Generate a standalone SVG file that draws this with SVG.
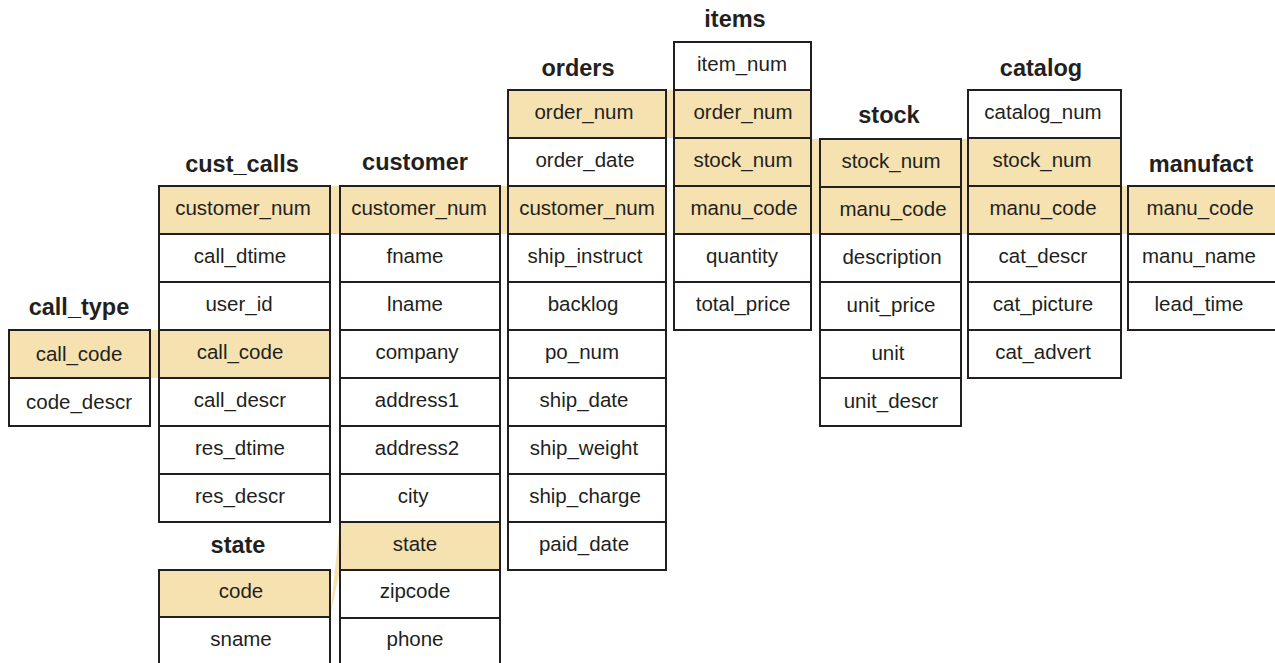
<svg xmlns="http://www.w3.org/2000/svg" width="1275" height="663" viewBox="0 0 1275 663">
<style>
.k{fill:#f6e2b0;stroke:#231f20;stroke-width:2}
.n{fill:#ffffff;stroke:#231f20;stroke-width:2}
.band{fill:#f6e2b0;stroke:none}
.t{font-family:"Liberation Sans",Arial,sans-serif;font-size:20.5px;fill:#231f20;text-anchor:middle}
.h{font-family:"Liberation Sans",Arial,sans-serif;font-size:23.5px;font-weight:bold;fill:#231f20;text-anchor:middle}
</style>
<rect width="1275" height="663" fill="#ffffff"/>
<g id="connectors">
<rect class="band" x="150" y="330" width="9" height="48"/>
<rect class="band" x="330" y="186" width="10" height="48"/>
<polygon class="band" points="330,617 340,522 340,570"/>
<rect class="band" x="500" y="186" width="8" height="48"/>
<rect class="band" x="666" y="90" width="8" height="48"/>
<rect class="band" x="811" y="139" width="9" height="95"/>
<rect class="band" x="961" y="139" width="7" height="95"/>
<rect class="band" x="1121" y="186" width="7" height="48"/>
</g>
<g id="call_type">
<text class="h" x="79" y="315">call_type</text>
<rect class="k" x="9" y="330" width="141" height="48"/><text class="t" x="79" y="361">call_code</text>
<rect class="n" x="9" y="378" width="141" height="48"/><text class="t" x="79" y="409">code_descr</text>
</g>
<g id="cust_calls">
<text class="h" x="242" y="172">cust_calls</text>
<rect class="k" x="159" y="186" width="171" height="48"/><text class="t" x="243" y="215">customer_num</text>
<rect class="n" x="159" y="234" width="171" height="48"/><text class="t" x="240" y="263">call_dtime</text>
<rect class="n" x="159" y="282" width="171" height="48"/><text class="t" x="239" y="311">user_id</text>
<rect class="k" x="159" y="330" width="171" height="48"/><text class="t" x="240" y="359">call_code</text>
<rect class="n" x="159" y="378" width="171" height="48"/><text class="t" x="240" y="407">call_descr</text>
<rect class="n" x="159" y="426" width="171" height="48"/><text class="t" x="240" y="455">res_dtime</text>
<rect class="n" x="159" y="474" width="171" height="48"/><text class="t" x="240" y="503">res_descr</text>
</g>
<g id="state">
<text class="h" x="238" y="553">state</text>
<rect class="k" x="159" y="570" width="171" height="47"/><text class="t" x="241" y="598">code</text>
<rect class="n" x="159" y="617" width="171" height="48"/><text class="t" x="241" y="646">sname</text>
</g>
<g id="customer">
<text class="h" x="415" y="170">customer</text>
<rect class="k" x="340" y="186" width="160" height="48"/><text class="t" x="419" y="215">customer_num</text>
<rect class="n" x="340" y="234" width="160" height="48"/><text class="t" x="415" y="263">fname</text>
<rect class="n" x="340" y="282" width="160" height="48"/><text class="t" x="415" y="311">lname</text>
<rect class="n" x="340" y="330" width="160" height="48"/><text class="t" x="417" y="359">company</text>
<rect class="n" x="340" y="378" width="160" height="48"/><text class="t" x="417" y="407">address1</text>
<rect class="n" x="340" y="426" width="160" height="48"/><text class="t" x="417" y="455">address2</text>
<rect class="n" x="340" y="474" width="160" height="48"/><text class="t" x="413" y="503">city</text>
<rect class="k" x="340" y="522" width="160" height="48"/><text class="t" x="415" y="551">state</text>
<rect class="n" x="340" y="570" width="160" height="48"/><text class="t" x="415" y="598">zipcode</text>
<rect class="n" x="340" y="618" width="160" height="48"/><text class="t" x="415" y="646">phone</text>
</g>
<g id="orders">
<text class="h" x="578" y="76">orders</text>
<rect class="k" x="508" y="90" width="158" height="48"/><text class="t" x="584" y="119">order_num</text>
<rect class="n" x="508" y="138" width="158" height="48"/><text class="t" x="585" y="167">order_date</text>
<rect class="k" x="508" y="186" width="158" height="48"/><text class="t" x="587" y="215">customer_num</text>
<rect class="n" x="508" y="234" width="158" height="48"/><text class="t" x="585" y="263">ship_instruct</text>
<rect class="n" x="508" y="282" width="158" height="48"/><text class="t" x="583" y="311">backlog</text>
<rect class="n" x="508" y="330" width="158" height="48"/><text class="t" x="582" y="359">po_num</text>
<rect class="n" x="508" y="378" width="158" height="48"/><text class="t" x="584" y="407">ship_date</text>
<rect class="n" x="508" y="426" width="158" height="48"/><text class="t" x="584" y="455">ship_weight</text>
<rect class="n" x="508" y="474" width="158" height="48"/><text class="t" x="585" y="503">ship_charge</text>
<rect class="n" x="508" y="522" width="158" height="48"/><text class="t" x="584" y="551">paid_date</text>
</g>
<g id="items">
<text class="h" x="735" y="27">items</text>
<rect class="n" x="674" y="42" width="137" height="48"/><text class="t" x="742" y="71">item_num</text>
<rect class="k" x="674" y="90" width="137" height="48"/><text class="t" x="743" y="119">order_num</text>
<rect class="k" x="674" y="138" width="137" height="48"/><text class="t" x="743" y="167">stock_num</text>
<rect class="k" x="674" y="186" width="137" height="48"/><text class="t" x="744" y="215">manu_code</text>
<rect class="n" x="674" y="234" width="137" height="48"/><text class="t" x="742" y="263">quantity</text>
<rect class="n" x="674" y="282" width="137" height="48"/><text class="t" x="743" y="311">total_price</text>
</g>
<g id="stock">
<text class="h" x="889" y="123">stock</text>
<rect class="k" x="820" y="139" width="141" height="48"/><text class="t" x="891" y="168">stock_num</text>
<rect class="k" x="820" y="187" width="141" height="47"/><text class="t" x="893" y="216">manu_code</text>
<rect class="n" x="820" y="234" width="141" height="48"/><text class="t" x="892" y="264">description</text>
<rect class="n" x="820" y="282" width="141" height="48"/><text class="t" x="891" y="312">unit_price</text>
<rect class="n" x="820" y="330" width="141" height="48"/><text class="t" x="888" y="360">unit</text>
<rect class="n" x="820" y="378" width="141" height="48"/><text class="t" x="891" y="408">unit_descr</text>
</g>
<g id="catalog">
<text class="h" x="1041" y="76">catalog</text>
<rect class="n" x="968" y="90" width="153" height="48"/><text class="t" x="1043" y="119">catalog_num</text>
<rect class="k" x="968" y="138" width="153" height="48"/><text class="t" x="1042" y="167">stock_num</text>
<rect class="k" x="968" y="186" width="153" height="48"/><text class="t" x="1043" y="215">manu_code</text>
<rect class="n" x="968" y="234" width="153" height="48"/><text class="t" x="1043" y="263">cat_descr</text>
<rect class="n" x="968" y="282" width="153" height="48"/><text class="t" x="1043" y="311">cat_picture</text>
<rect class="n" x="968" y="330" width="153" height="48"/><text class="t" x="1043" y="359">cat_advert</text>
</g>
<g id="manufact">
<text class="h" x="1201" y="172">manufact</text>
<rect class="k" x="1128" y="186" width="152" height="48"/><text class="t" x="1200" y="215">manu_code</text>
<rect class="n" x="1128" y="234" width="152" height="48"/><text class="t" x="1199" y="263">manu_name</text>
<rect class="n" x="1128" y="282" width="152" height="48"/><text class="t" x="1199" y="311">lead_time</text>
</g>
</svg>
